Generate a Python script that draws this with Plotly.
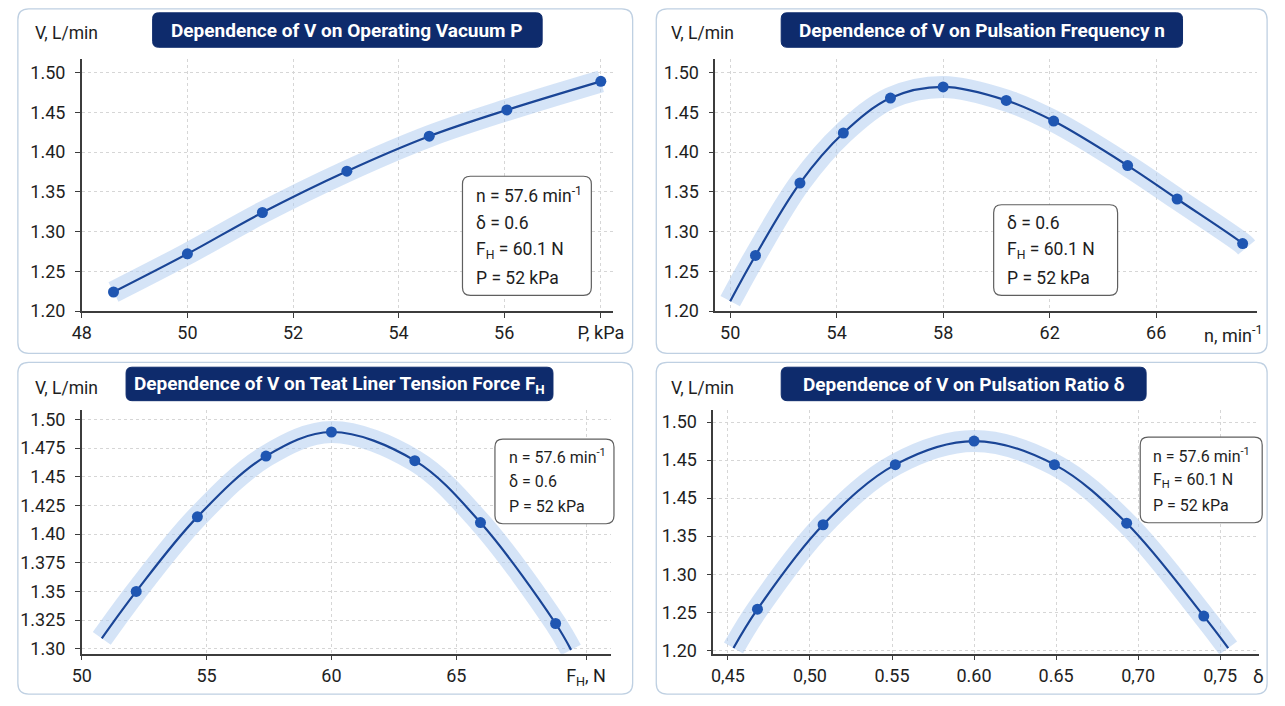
import plotly.graph_objects as go

W, H = 1285, 706

# ---------------- data ----------------
P_kPa = [48.6, 50.0, 51.42, 53.02, 54.58, 56.05, 57.83]
V_P = [1.224, 1.272, 1.324, 1.376, 1.420, 1.453, 1.489]

n_min = [50.95, 52.62, 54.25, 56.02, 58.0, 60.37, 62.15, 64.93, 66.79, 69.25]
V_n = [1.270, 1.361, 1.424, 1.468, 1.482, 1.465, 1.439, 1.383, 1.341, 1.285]
n_curve_x = [50.0] + n_min + [69.4]
n_curve_y = [1.2125] + V_n + [1.280]

F_N = [52.18, 54.63, 57.38, 60.0, 63.34, 65.97, 68.98]
V_F = [1.350, 1.415, 1.468, 1.489, 1.464, 1.410, 1.322]
F_curve_x = [50.8] + F_N + [69.6]
F_curve_y = [1.309] + V_F + [1.299]

delta = [0.468, 0.508, 0.552, 0.600, 0.649, 0.693, 0.740]
V_d = [1.254, 1.365, 1.444, 1.475, 1.444, 1.367, 1.245]
d_curve_x = [0.4534] + delta + [0.7549]
d_curve_y = [1.203] + V_d + [1.203]

titles = ["Dependence of V on Operating Vacuum P",
          "Dependence of V on Pulsation Frequency n",
          "Dependence of V on Teat Liner Tension Force F<sub>H</sub>",
          "Dependence of V on Pulsation Ratio δ"]

x1_ticks = [48, 50, 52, 54, 56, 57.83]
x1_text = ["48", "50", "52", "54", "56", "P, kPa"]
x2_ticks = [50, 54, 58, 62, 66]
x2_text = ["50", "54", "58", "62", "66"]
x3_ticks = [50, 55, 60, 65, 70.2]
x3_text = ["50", "55", "60", "65", "F<sub>H</sub>, N"]
x4_ticks = [0.45, 0.50, 0.55, 0.60, 0.65, 0.70, 0.75]
x4_text = ["0,45", "0,50", "0.55", "0.60", "0.65", "0,70", "0,75"]

y12_ticks = [1.20, 1.25, 1.30, 1.35, 1.40, 1.45, 1.50]
y12_text = ["1.20", "1.25", "1.30", "1.35", "1.40", "1.45", "1.50"]
y3_ticks = [1.30, 1.325, 1.35, 1.375, 1.40, 1.425, 1.45, 1.475, 1.50]
y3_text = ["1.30", "1.325", "1.35", "1.375", "1.40", "1.425", "1.45", "1.475", "1.50"]
y4_ticks = [1.20, 1.25, 1.30, 1.35, 1.40, 1.45, 1.50]
y4_text = ["1.20", "1.25", "1.30", "1.35", "1.45", "1.45", "1.50"]

box1 = ["n = 57.6 min<sup>-1</sup>", "δ = 0.6", "F<sub>H</sub> = 60.1 N", "P = 52 kPa"]
box2 = ["δ = 0.6", "F<sub>H</sub> = 60.1 N", "P = 52 kPa"]
box3 = ["n = 57.6 min<sup>-1</sup>", "δ = 0.6", "P = 52 kPa"]
box4 = ["n = 57.6 min<sup>-1</sup>", "F<sub>H</sub> = 60.1 N", "P = 52 kPa"]

# ---------------- styling ----------------
BAND = "rgba(178,205,241,0.55)"
LINE = "#1a4596"
MARK = "#1f56b2"
NAVY = "#0e2b6c"
FONT = "Roboto"
TXT = "#1e1e1e"


def px(x):
    return x / W


def py(y):
    return 1 - y / H


def rrect(x0, y0, x1, y1, r):
    X0, X1 = px(x0), px(x1)
    Y0, Y1 = py(y0), py(y1)
    rx, ry = r / W, r / H
    return (f"M {X0+rx},{Y0} L {X1-rx},{Y0} Q {X1},{Y0} {X1},{Y0-ry} "
            f"L {X1},{Y1+ry} Q {X1},{Y1} {X1-rx},{Y1} L {X0+rx},{Y1} "
            f"Q {X0},{Y1} {X0},{Y1+ry} L {X0},{Y0-ry} Q {X0},{Y0} {X0+rx},{Y0} Z")


fig = go.Figure()

panels = [
    ("x", "y", P_kPa, V_P, P_kPa, V_P),
    ("x2", "y2", n_curve_x, n_curve_y, n_min, V_n),
    ("x3", "y3", F_curve_x, F_curve_y, F_N, V_F),
    ("x4", "y4", d_curve_x, d_curve_y, delta, V_d),
]
for xa, ya, cx, cy, mx, my in panels:
    fig.add_trace(go.Scatter(x=cx, y=cy, xaxis=xa, yaxis=ya, mode="lines",
                             line=dict(color=BAND, width=22, shape="spline", smoothing=1.0),
                             hoverinfo="skip", showlegend=False))
    fig.add_trace(go.Scatter(x=cx, y=cy, xaxis=xa, yaxis=ya, mode="lines",
                             line=dict(color=LINE, width=2.2, shape="spline", smoothing=1.0),
                             hoverinfo="skip", showlegend=False))
    fig.add_trace(go.Scatter(x=mx, y=my, xaxis=xa, yaxis=ya, mode="markers",
                             marker=dict(color=MARK, size=11),
                             showlegend=False))

axis_common = dict(showline=True, linecolor="#3c3c3c", linewidth=1.5,
                   ticks="outside", ticklen=5, tickcolor="#3c3c3c", tickwidth=1.2,
                   showgrid=True, gridcolor="#d6d6d6", griddash="dot", gridwidth=1,
                   zeroline=False, fixedrange=True,
                   tickfont=dict(family=FONT, size=18, color=TXT),
                   tickmode="array")
yaxis_common = dict(axis_common, ticklabelstandoff=6)

layout = dict(
    width=W, height=H, autosize=False,
    margin=dict(l=0, r=0, t=0, b=0),
    paper_bgcolor="white", plot_bgcolor="rgba(0,0,0,0)",
    showlegend=False,
    xaxis=dict(axis_common, domain=[px(73), px(613)], range=[48, 58.06],
               tickvals=x1_ticks, ticktext=x1_text, anchor="y"),
    yaxis=dict(yaxis_common, domain=[py(315), py(59)], range=[1.20, 1.517],
               tickvals=y12_ticks, ticktext=y12_text, anchor="x"),
    xaxis2=dict(axis_common, domain=[px(717), px(1268)], range=[49.44, 69.8],
                tickvals=x2_ticks, ticktext=x2_text, anchor="y2"),
    yaxis2=dict(yaxis_common, domain=[py(315), py(59)], range=[1.20, 1.517],
                tickvals=y12_ticks, ticktext=y12_text, anchor="x2"),
    xaxis3=dict(axis_common, domain=[px(73), px(611)], range=[50, 71.2],
                tickvals=x3_ticks, ticktext=x3_text, anchor="y3"),
    yaxis3=dict(yaxis_common, domain=[py(663), py(415)], range=[1.2957, 1.5086],
                tickvals=y3_ticks, ticktext=y3_text, anchor="x3"),
    xaxis4=dict(axis_common, domain=[px(715), px(1270)], range=[0.4411, 0.7738],
                tickvals=x4_ticks, ticktext=x4_text, anchor="y4"),
    yaxis4=dict(yaxis_common, domain=[py(663), py(415)], range=[1.1956, 1.5164],
                tickvals=y4_ticks, ticktext=y4_text, anchor="x4"),
)
fig.update_layout(**layout)

shapes = []
# cards
for (x0, y0, x1, y1) in [(8, 8, 633, 358), (657, 8, 1278, 358),
                         (8, 367, 633, 704), (657, 367, 1278, 704)]:
    shapes.append(dict(type="path", path=rrect(x0, y0, x1, y1, 11), xref="paper", yref="paper",
                       fillcolor="white", line=dict(color="#bfd0e2", width=1.3), layer="below"))
# title boxes
title_boxes = [(145, 12, 541, 47), (784, 12, 1192, 47), (118, 372, 552, 406), (784, 372, 1155, 406)]
for (x0, y0, x1, y1) in title_boxes:
    shapes.append(dict(type="path", path=rrect(x0, y0, x1, y1, 6), xref="paper", yref="paper",
                       fillcolor=NAVY, line=dict(color=NAVY, width=1), layer="above"))
# parameter boxes
param_boxes = [(460, 178, 591, 299), (1000, 207, 1126, 299), (493, 445, 614, 531), (1149, 443, 1273, 530)]
for (x0, y0, x1, y1) in param_boxes:
    shapes.append(dict(type="path", path=rrect(x0, y0, x1, y1, 8), xref="paper", yref="paper",
                       fillcolor="white", line=dict(color="#5f5f5f", width=1.2), layer="above"))
fig.update_layout(shapes=shapes)

ann = []
for t, (x0, y0, x1, y1) in zip(titles, title_boxes):
    ann.append(dict(text=f"<b>{t}</b>", x=px((x0 + x1) / 2), y=py((y0 + y1) / 2 + 0.5),
                    xref="paper", yref="paper", xanchor="center", yanchor="middle",
                    showarrow=False, font=dict(family=FONT, size=19, color="white")))
for (xc, yc) in [(57, 33), (704, 33), (57, 393), (704, 393)]:
    ann.append(dict(text="V, L/min", x=px(xc), y=py(yc), xref="paper", yref="paper",
                    xanchor="center", yanchor="middle", showarrow=False,
                    font=dict(family=FONT, size=17.5, color=TXT)))
box_text_pos = [(472, [197, 226, 253, 281], 17.5), (1012, [226, 253, 281], 17.5),
                (505, [463, 488, 513], 16), (1160, [462, 487, 512], 16)]
for lines, (xl, ys, fs) in zip([box1, box2, box3, box4], box_text_pos):
    for line, yc in zip(lines, ys):
        ann.append(dict(text=line, x=px(xl), y=py(yc), xref="paper", yref="paper",
                        xanchor="left", yanchor="middle", showarrow=False,
                        font=dict(family=FONT, size=fs, color=TXT)))
ann.append(dict(text="n, min<sup>-1</sup>", x=px(1244), y=py(338), xref="paper", yref="paper",
                xanchor="center", yanchor="middle", showarrow=False,
                font=dict(family=FONT, size=18, color=TXT)))
ann.append(dict(text="δ", x=px(1269), y=py(686), xref="paper", yref="paper",
                xanchor="center", yanchor="middle", showarrow=False,
                font=dict(family=FONT, size=19, color=TXT)))
fig.update_layout(annotations=ann)

fig.write_html("out.html", config={"displayModeBar": False},
               post_script="document.body.style.margin='0';document.body.style.overflow='hidden';")
